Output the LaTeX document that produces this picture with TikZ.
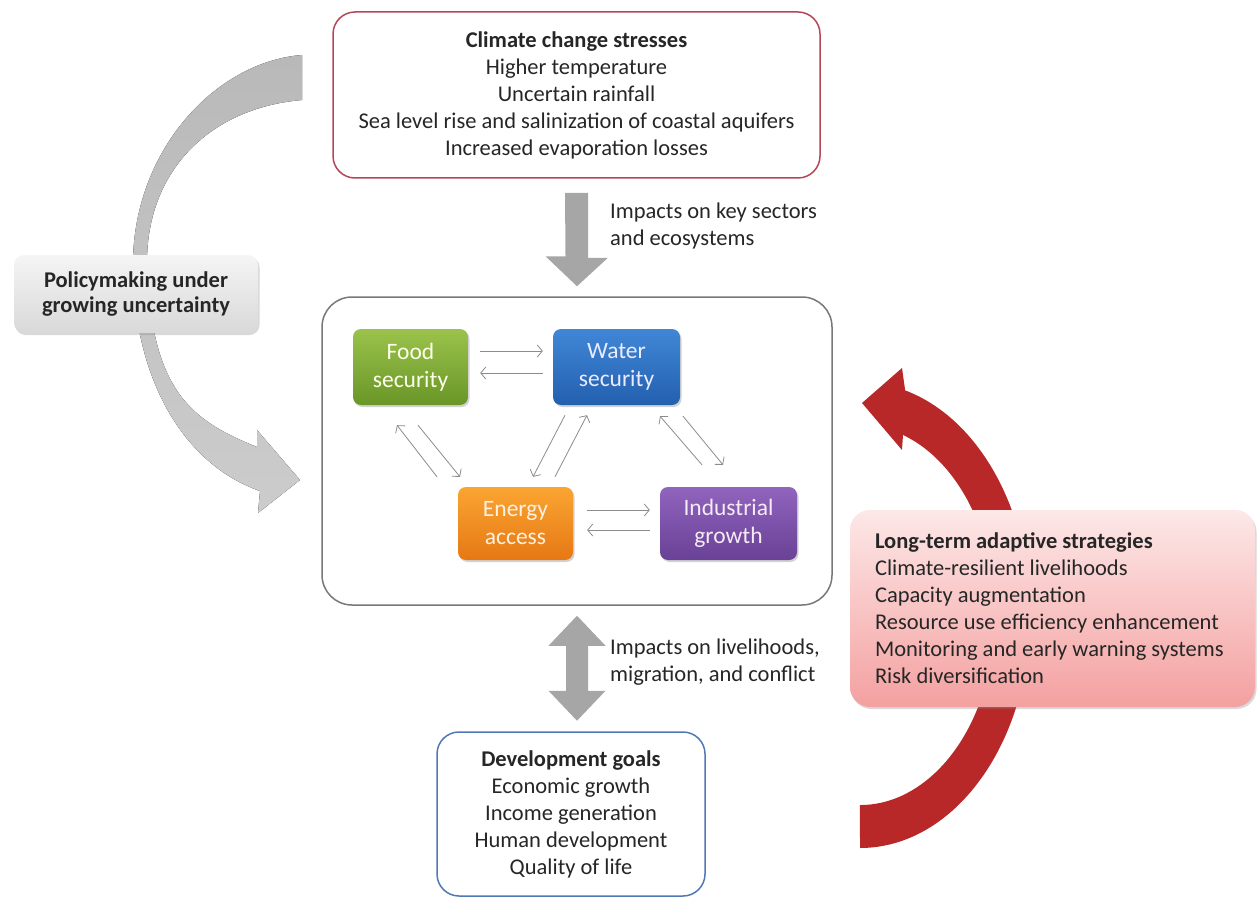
\documentclass[tikz,border=0pt]{standalone}
\usepackage{fontspec}
\setmainfont{Carlito}
\usetikzlibrary{arrows.meta,calc,shadows}

\definecolor{textgray}{RGB}{38,38,38}
\definecolor{climatered}{RGB}{180,70,90}
\definecolor{goalsblue}{RGB}{80,120,180}
\definecolor{nexusgray}{RGB}{120,120,120}
\definecolor{arrowgray}{RGB}{166,166,166}
\definecolor{linkgray}{RGB}{140,140,140}
\definecolor{redarrow}{RGB}{185,40,40}
\definecolor{pinktop}{RGB}{253,232,232}
\definecolor{pinkbottom}{RGB}{244,160,160}
\definecolor{foodtop}{RGB}{155,195,75}
\definecolor{foodbottom}{RGB}{105,150,40}
\definecolor{watertop}{RGB}{65,135,215}
\definecolor{waterbottom}{RGB}{35,95,175}
\definecolor{energytop}{RGB}{250,165,50}
\definecolor{energybottom}{RGB}{230,120,20}
\definecolor{industrytop}{RGB}{145,100,190}
\definecolor{industrybottom}{RGB}{105,65,150}

\begin{document}
\begin{tikzpicture}[x=1pt, y=-1pt,
    every node/.style={font=\fontsize{22.5}{27}\selectfont, text=textgray},
    panel/.style={draw, line width=1.5pt, rounded corners=22pt, fill=white, align=center},
    sector/.style={rounded corners=8pt, align=center, minimum height=76pt,
      font=\fontsize{23.5}{28}\selectfont,
      drop shadow={opacity=0.35, shadow xshift=1.5pt, shadow yshift=-2pt}},
    link/.style={draw=linkgray, line width=0.8pt, -{Straight Barb[length=5pt,width=12pt]}},
    bigarrow/.style={fill=arrowgray}]
    \useasboundingbox (0,0) rectangle (1257,896);

    \fill[top color=gray!55, bottom color=gray!40] (302,55) .. controls (215,62) and (135,150) .. (133,260)
        .. controls (132,380) and (185,465) .. (260,491) -- (258,513) -- (300,480) -- (257,430) -- (257,447)
        .. controls (190,420) and (150,390) .. (147,260) .. controls (148,170) and (210,108) .. (302,100) -- cycle;
    \fill[redarrow] (860,848) arc[start angle=90, end angle=-74.6, x radius=170, y radius=233]
        -- (902,368) -- (862,403) -- (902,450) -- (903,435)
        arc[start angle=-71.4, end angle=90, x radius=135, y radius=190] -- cycle;

    \node[panel, draw=climatered, minimum width=487pt, minimum height=166pt] (climate) at (576.5,95)
        {\textbf{Climate change stresses}\\Higher temperature\\Uncertain rainfall\\
         Sea level rise and salinization of coastal aquifers\\Increased evaporation losses};
    \node[panel, draw=nexusgray, rounded corners=30pt, minimum width=510pt, minimum height=308pt] (nexus) at (577,451) {};
    \node[panel, draw=goalsblue, minimum width=268pt, minimum height=164pt] (goals) at (571,814)
        {\textbf{Development goals}\\Economic growth\\Income generation\\Human development\\Quality of life};

    \node[rounded corners=10pt, top color=gray!8, bottom color=gray!30, minimum width=244pt, minimum height=78pt,
        align=center, font=\bfseries\fontsize{22.5}{25}\selectfont,
        drop shadow={opacity=0.3, shadow xshift=1.5pt, shadow yshift=-2pt}] (policy) at (136,294)
        {Policymaking under\\growing uncertainty};
    \node[rounded corners=20pt, top color=pinktop, bottom color=pinkbottom, text width=355pt, inner xsep=25pt,
        minimum height=197pt, align=flush left,
        drop shadow={opacity=0.3, shadow xshift=1.5pt, shadow yshift=-2pt}] (strategies) at (1052.5,608.5)
        {\textbf{Long-term adaptive strategies}\\Climate-resilient livelihoods\\Capacity augmentation\\
         Resource use efficiency enhancement\\Monitoring and early warning systems\\Risk diversification};

    \node[sector, top color=foodtop, bottom color=foodbottom, text=green!5!yellow!8, minimum width=115pt] (food) at (410.5,367) {Food\\security};
    \node[sector, top color=watertop, bottom color=waterbottom, text=white!92!blue, minimum width=127pt] (water) at (616.5,367) {Water\\security};
    \node[sector, top color=energytop, bottom color=energybottom, text=white!88!orange, minimum width=115pt, minimum height=73pt] (energy) at (515.5,523.5) {Energy\\access};
    \node[sector, top color=industrytop, bottom color=industrybottom, text=white!92!violet, minimum width=137pt, minimum height=73pt] (industry) at (728.5,523.5) {Industrial\\growth};

    \draw[link] ($(food.east)+(12,-16)$) -- ($(water.west)+(-10,-16)$);
    \draw[link] ($(water.west)+(-10,6)$) -- ($(food.east)+(12,6)$);
    \draw[link] ($(energy.east)+(14,-13.5)$) -- ($(industry.west)+(-10,-13.5)$);
    \draw[link] ($(industry.west)+(-10,6.5)$) -- ($(energy.east)+(14,6.5)$);
    \draw[link] ($(energy.north)+(-78.5,-10)$) -- ($(food.south)+(-13.5,20)$);
    \draw[link] ($(food.south)+(7.5,20)$) -- ($(energy.north)+(-55.5,-10)$);
    \draw[link] ($(water.south)+(-51.5,10)$) -- ($(energy.north)+(17.5,-10)$);
    \draw[link] ($(energy.north)+(39.5,-10)$) -- ($(water.south)+(-29.5,10)$);
    \draw[link] ($(industry.north)+(-26.5,-22)$) -- ($(water.south)+(43.5,11)$);
    \draw[link] ($(water.south)+(66.5,11)$) -- ($(industry.north)+(-5.5,-22)$);

    \fill[bigarrow] ($(climate.south)+(-11.5,14)$) -- ++(23,0) -- ++(0,65) -- ++(20,0)
        -- ($(nexus.north)+(0,-10)$) -- ++(-31.5,-30) -- ++(20,0) -- cycle;
    \fill[bigarrow] ($(nexus.south)+(0,10)$) -- ++(28.5,30) -- ++(-17.5,0) -- ++(0,45) -- ++(17.5,0)
        -- ++(-28.5,30) -- ++(-28.5,-30) -- ++(17.5,0) -- ++(0,-45) -- ++(-17.5,0) -- cycle;

    \node[anchor=west, align=left, inner sep=0pt] (sectorlabel) at (610,226.5) {Impacts on key sectors\\and ecosystems};
    \node[anchor=west, align=left, inner sep=0pt] (livelabel) at (610,662) {Impacts on livelihoods,\\migration, and conflict};
\end{tikzpicture}
\end{document}
